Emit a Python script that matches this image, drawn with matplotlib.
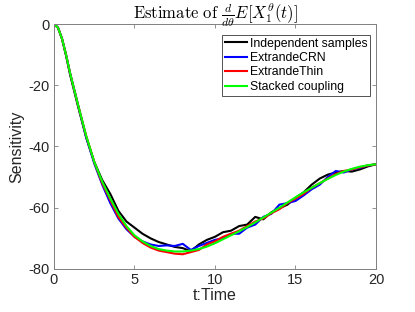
import matplotlib
matplotlib.use("Agg")
import matplotlib.pyplot as plt
import numpy as np

t = [0, 0.25, 0.5, 0.75] + [1 + i * 0.5 for i in range(39)]

independent = [0, -1.2, -4.8, -10.3, -16.5, -27, -37, -45, -51, -55.5, -61, -64.5, -66.5,
               -68.5, -70, -71.2, -72, -72.8, -73.2, -74.2, -72, -70.5, -69.5, -68,
               -67.5, -66, -65.5, -63, -63.8, -61.5, -60.2, -59, -56.8, -55, -52.5,
               -50.5, -49.2, -48.5, -48, -48.2, -47.5, -46.5, -45.8]
crn = [0, -1.2, -4.8, -10, -16, -26.5, -37, -45.5, -52.5, -58.5, -63.5, -67, -69.5,
       -71, -72, -72.5, -72.3, -72.5, -71.8, -73.8, -72.5, -71.5, -70.5, -70, -68.5,
       -68.5, -66.5, -65.5, -63, -62, -59, -58.5, -57.8, -56, -54, -52.5, -50, -48,
       -48.5, -47.5, -47, -46.2, -45.8]
thin = [0, -1.2, -4.8, -10, -16, -26.5, -36.5, -45, -52, -57.5, -63, -66.5, -69.5,
        -71.5, -73, -74, -74.5, -75, -75.2, -74.5, -73.8, -72, -71, -69.5, -68.5,
        -67.5, -66, -64.5, -63.5, -61.8, -60.5, -58.5, -57, -55.5, -53.5, -52, -50.5,
        -49, -48, -47.5, -46.8, -46.2, -45.8]
stacked = [0, -1.2, -4.8, -10, -16, -26.5, -36.5, -45, -51.5, -57, -62, -66, -69, -71,
           -72.5, -73.5, -74, -74.3, -74.3, -74, -73.5, -72.7, -71.6, -70.3, -69,
           -67.7, -66.3, -64.8, -63.2, -61.6, -60, -58.3, -56.6, -55, -53.5, -52,
           -50.6, -49.3, -48.2, -47.3, -46.6, -46.1, -45.8]

labels = ["Independent samples", "ExtrandeCRN", "ExtrandeThin", "Stacked coupling"]
colors = ["#000000", "#0000ff", "#ff0000", "#00ff00"]
xticks = [0, 5, 10, 15, 20]
yticks = [0, -20, -40, -60, -80]

plt.rcParams["font.family"] = ["Liberation Sans", "DejaVu Sans"]
plt.rcParams["mathtext.fontset"] = "cm"

fig = plt.figure(figsize=(4.15, 3.12), dpi=100)
ax = fig.add_axes([0.130, 0.138, 0.776, 0.785])

for series, lab, col in zip([independent, crn, thin, stacked], labels, colors):
    ax.plot(t, series, color=col, lw=1.5, label=lab)

ax.set_xlim(0, 20)
ax.set_ylim(-80, 0)
ax.set_xticks(xticks)
ax.set_yticks(yticks)
ax.set_yticklabels([str(v) for v in yticks])
ax.tick_params(direction="in", top=True, right=True, length=3, width=0.6,
               labelsize=10.5, pad=3)
for s in ax.spines.values():
    s.set_color("#808080")
    s.set_linewidth(0.7)
ax.tick_params(colors="#808080", labelcolor="#262626")

ax.set_xlabel("t:Time", fontsize=11.5, color="#262626", labelpad=1)
ax.set_ylabel("Sensitivity", fontsize=11.5, color="#262626", labelpad=3)
ax.set_title(r"$\mathrm{Estimate\ of\ }\frac{d}{d\theta}E[X_1^\theta(t)]$",
             fontsize=12, pad=4)

leg = ax.legend(loc="upper right", bbox_to_anchor=(0.99, 0.967), fontsize=8.8,
                frameon=True, fancybox=False, handlelength=1.8, handletextpad=0.2,
                borderpad=0.25, labelspacing=0.2, borderaxespad=0.2)
leg.get_frame().set_edgecolor("#262626")
leg.get_frame().set_linewidth(0.7)

fig.savefig("out.png", dpi=100)
